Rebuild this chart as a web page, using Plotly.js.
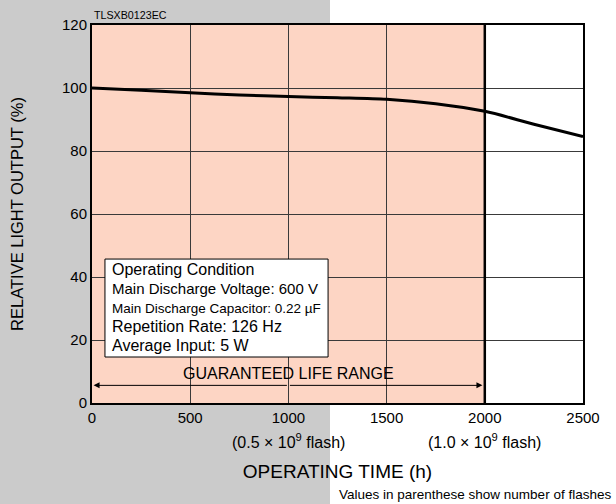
<!DOCTYPE html>
<html>
<head>
<meta charset="utf-8">
<script src="https://cdn.plot.ly/plotly-3.0.1.min.js"></script>
<style>html,body{margin:0;padding:0;background:#fff;}#chart{width:616px;height:504px;}</style>
</head>
<body>
<div id="chart"></div>
<script>
// Data
const timeH = [0, 250, 500, 750, 1000, 1250, 1500, 1750, 2000, 2250, 2500];
const relOutput = [100, 99.3, 98.5, 97.8, 97.3, 96.9, 96.4, 95.0, 92.6, 88.5, 84.6];
const xTicks = [0, 500, 1000, 1500, 2000, 2500];
const yTicks = [0, 20, 40, 60, 80, 100, 120];
const flashTicks = [1000, 2000];
const flashLabels = ['(0.5 \u00d7 10<sup>9</sup> flash)', '(1.0 \u00d7 10<sup>9</sup> flash)'];
const guaranteedEnd = 2000;
const conditionLines = [
  'Operating Condition',
  'Main Discharge Voltage: 600 V',
  'Main Discharge Capacitor: 0.22 \u00b5F',
  'Repetition Rate: 126 Hz',
  'Average Input: 5 W'
];

const font = 'Liberation Sans, Arial, Helvetica, sans-serif';

const trace = {
  x: timeH, y: relOutput, type: 'scatter', mode: 'lines',
  line: {color: '#000', width: 3, shape: 'spline', smoothing: 0.8},
  hoverinfo: 'skip', showlegend: false
};

const shapes = [
  // gray page band
  {type: 'rect', xref: 'paper', yref: 'paper', x0: -92/491, x1: (330-92)/491, y0: -101/378, y1: 25/378 + 1,
   fillcolor: '#cbcbcb', line: {width: 0}, layer: 'below'},
  // guaranteed region
  {type: 'rect', xref: 'x', yref: 'y', x0: 0, x1: guaranteedEnd, y0: 0, y1: 120,
   fillcolor: '#fdd5c4', line: {width: 0}, layer: 'below'},
  {type: 'rect', xref: 'x', yref: 'y', x0: guaranteedEnd, x1: 2500, y0: 0, y1: 120,
   fillcolor: '#ffffff', line: {width: 0}, layer: 'below'},
  // thick end line
  {type: 'line', xref: 'x', yref: 'y', x0: guaranteedEnd, x1: guaranteedEnd, y0: 0, y1: 120,
   line: {color: '#000', width: 2.5}, layer: 'above'},
  // condition box
  {type: 'rect', xref: 'x', yref: 'y', x0: 66, x1: 1202, y0: 14.6, y1: 45.7,
   fillcolor: '#ffffff', line: {color: '#000', width: 1}, layer: 'above'}
];

const condSize = [16, 15, 13.5, 16, 16];
const condText = conditionLines.map((t, i) => '<span style="font-size:' + condSize[i] + 'px">' + t + '</span>').join('<br>');
const annotations = [];
annotations.push({xref: 'x', yref: 'y', x: 95, y: 30.2, text: condText, showarrow: false, align: 'left',
  xanchor: 'left', yanchor: 'middle', borderpad: 0, font: {family: font, size: 14.6, color: '#000'}});
flashTicks.forEach((v, i) => {
  annotations.push({xref: 'x', yref: 'paper', x: v, y: 0, yshift: -38, text: flashLabels[i],
    showarrow: false, xanchor: 'center', yanchor: 'middle', font: {family: font, size: 16, color: '#000'}});
});
// guaranteed life range arrow
annotations.push({xref: 'x', yref: 'y', x: 1000, y: 9.3, text: 'GUARANTEED LIFE RANGE', showarrow: false,
  xanchor: 'center', yanchor: 'middle', font: {family: font, size: 16, color: '#000'}});
annotations.push({xref: 'x', yref: 'y', axref: 'x', ayref: 'y', x: 8, y: 5.6, ax: 1000, ay: 5.6, text: '',
  showarrow: true, arrowhead: 2, arrowsize: 1.2, arrowwidth: 1, arrowcolor: '#000'});
annotations.push({xref: 'x', yref: 'y', axref: 'x', ayref: 'y', x: 1988, y: 5.6, ax: 1000, ay: 5.6, text: '',
  showarrow: true, arrowhead: 2, arrowsize: 1.2, arrowwidth: 1, arrowcolor: '#000'});
// code label
annotations.push({xref: 'paper', yref: 'paper', x: 0, y: 1, yshift: 10, xshift: 0, text: 'TLSXB0123EC', showarrow: false,
  xanchor: 'left', yanchor: 'middle', font: {family: font, size: 10.7, color: '#000'}});
// note
annotations.push({xref: 'paper', yref: 'paper', x: 1, y: 0, xshift: 30, yshift: -91, text: 'Values in parenthese show number of flashes',
  showarrow: false, xanchor: 'right', yanchor: 'middle', font: {family: font, size: 13.5, color: '#000'}});

const layout = {
  width: 616, height: 504,
  margin: {l: 92, r: 33, t: 25, b: 101, pad: 0},
  paper_bgcolor: '#ffffff', plot_bgcolor: 'rgba(0,0,0,0)',
  font: {family: font, color: '#000'},
  showlegend: false,
  xaxis: {
    range: [0, 2500], tickvals: xTicks, ticktext: xTicks.map(String), ticks: '',
    showgrid: true, gridcolor: '#3a3a3a', gridwidth: 1, zeroline: false,
    showline: true, linecolor: '#000', linewidth: 2, mirror: true,
    tickfont: {family: font, size: 15, color: '#000'}, automargin: false,
    title: {text: 'OPERATING TIME (h)', font: {family: font, size: 19, color: '#000'}, standoff: 40}
  },
  yaxis: {
    range: [0, 120], tickvals: yTicks, ticktext: yTicks.map(String), ticks: '',
    showgrid: true, gridcolor: '#3a3a3a', gridwidth: 1, zeroline: false,
    showline: true, linecolor: '#000', linewidth: 2, mirror: true,
    tickfont: {family: font, size: 15, color: '#000'}, automargin: false,
    title: {text: 'RELATIVE LIGHT OUTPUT (%)', font: {family: font, size: 16.5, color: '#000'}, standoff: 34}
  },
  shapes: shapes,
  annotations: annotations
};

Plotly.newPlot('chart', [trace], layout, {displayModeBar: false, staticPlot: true});
</script>
</body>
</html>
